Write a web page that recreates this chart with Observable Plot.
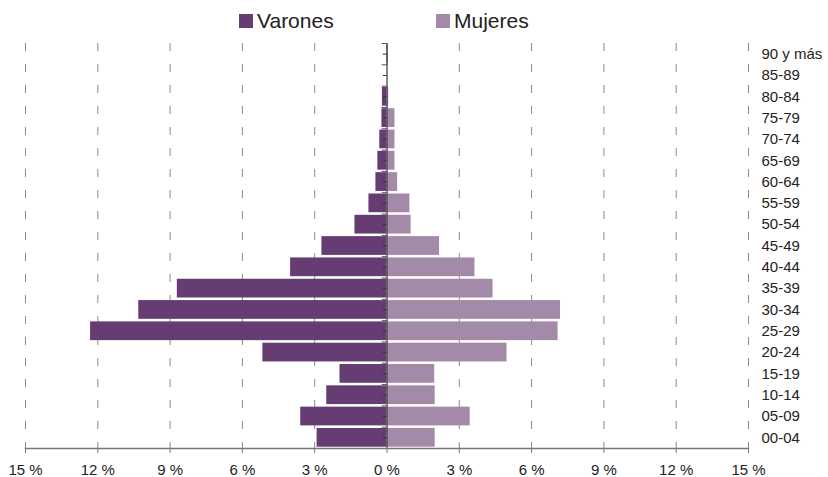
<!DOCTYPE html>
<html>
<head>
<meta charset="utf-8">
<script src="https://cdn.jsdelivr.net/npm/d3@7"></script>
<script src="https://cdn.jsdelivr.net/npm/@observablehq/plot@0.6"></script>
<style>
  html, body { margin: 0; padding: 0; background: #fff; }
  #wrap { position: relative; width: 828px; height: 477px; font-family: "Liberation Sans", Arial, sans-serif; }
  #legend { position: absolute; top: 0; left: 0; width: 828px; height: 43px; }
  .li { position: absolute; top: 9px; display: flex; align-items: center; font-size: 21px; color: #222; }
  .sw { width: 14px; height: 14px; margin-right: 4px; }
</style>
</head>
<body>
<div id="wrap">
  <div id="chart"></div>
  <div id="legend"></div>
</div>
<script>
const ages = ["00-04","05-09","10-14","15-19","20-24","25-29","30-34","35-39","40-44","45-49","50-54","55-59","60-64","65-69","70-74","75-79","80-84","85-89","90 y más"];
const varones = [2.9, 3.58, 2.5, 1.95, 5.15, 12.3, 10.3, 8.7, 4.0, 2.7, 1.33, 0.75, 0.46, 0.38, 0.3, 0.21, 0.19, 0.0, 0.02];
const mujeres = [2.0, 3.45, 2.0, 1.98, 4.98, 7.1, 7.2, 4.4, 3.65, 2.18, 1.0, 0.95, 0.44, 0.33, 0.33, 0.33, 0.07, 0.0, 0.06];
const seriesNames = ["Varones", "Mujeres"];
const seriesColors = ["#663d73", "#a48aa9"];
const xTicks = [-15, -12, -9, -6, -3, 0, 3, 6, 9, 12, 15];

const rows = [];
ages.forEach((a, i) => {
  rows.push({age: a, sexo: seriesNames[0], v: -varones[i]});
  rows.push({age: a, sexo: seriesNames[1], v: mujeres[i]});
});
const yDomain = ages.slice().reverse();

const plot = Plot.plot({
  width: 828,
  height: 477,
  marginTop: 43,
  marginBottom: 29,
  marginLeft: 25,
  marginRight: 80,
  style: {fontFamily: "Liberation Sans, Arial, sans-serif", fontSize: "15px", color: "#222", background: "#fff", overflow: "visible"},
  x: {domain: [-15, 15], label: null},
  y: {domain: yDomain, paddingInner: 0.12, paddingOuter: 0.06, round: false, label: null},
  color: {domain: seriesNames, range: seriesColors},
  marks: [
    Plot.ruleX(xTicks.filter(d => d !== 0), {stroke: "#8a8a8a", strokeWidth: 1, strokeDasharray: "8,13"}),
    Plot.barX(rows, {x: "v", y: "age", fill: "sexo"}),
    Plot.ruleX([0], {stroke: "#444", strokeWidth: 1.3}),
    Plot.ruleY(ages, {y: d => d, x1: -0.15, x2: 0, stroke: "#333"}),
    Plot.ruleY(ages, {y: d => d, x1: -0.2, x2: 0.03, stroke: "#555", dy: -10.66}),
    Plot.frame({anchor: "bottom", stroke: "#777", strokeWidth: 1.3}),
    Plot.axisX({ticks: xTicks, tickFormat: d => Math.abs(d) + " %", tickSize: 5, tickPadding: 11, stroke: "#777", fill: "#222", fontSize: 15, label: null}),
    Plot.axisY({anchor: "right", tickSize: 0, tickPadding: 13, fill: "#222", fontSize: 15, label: null})
  ]
});
document.getElementById("chart").appendChild(plot);

const legend = document.getElementById("legend");
const lefts = [239, 436];
seriesNames.forEach((n, i) => {
  const item = document.createElement("div");
  item.className = "li";
  item.style.left = lefts[i] + "px";
  const sw = document.createElement("span");
  sw.className = "sw";
  sw.style.background = seriesColors[i];
  const t = document.createElement("span");
  t.textContent = n;
  item.appendChild(sw);
  item.appendChild(t);
  legend.appendChild(item);
});
</script>
</body>
</html>
